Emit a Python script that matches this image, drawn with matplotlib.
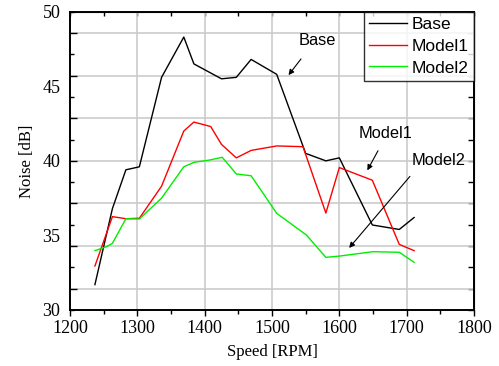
import numpy as np
import matplotlib
matplotlib.use("Agg")
import matplotlib.pyplot as plt
from matplotlib.ticker import FixedLocator

# ---- data ----
base_x = [1237, 1263, 1283, 1303, 1336, 1369, 1384, 1425, 1447, 1469, 1507, 1550, 1580, 1600, 1649, 1689, 1711]
base_y = [31.7, 36.8, 39.4, 39.6, 45.6, 48.3, 46.5, 45.5, 45.6, 46.8, 45.8, 40.5, 40.0, 40.2, 35.7, 35.4, 36.2]

m1_x = [1237, 1263, 1283, 1303, 1336, 1369, 1384, 1409, 1425, 1447, 1469, 1507, 1546, 1580, 1600, 1649, 1689, 1711]
m1_y = [32.95, 36.26, 36.12, 36.15, 38.3, 42.0, 42.6, 42.3, 41.1, 40.2, 40.7, 41.0, 40.95, 36.5, 39.55, 38.7, 34.4, 33.98]

m2_x = [1237, 1254, 1263, 1283, 1303, 1336, 1369, 1384, 1408, 1426, 1447, 1469, 1507, 1551, 1580, 1601, 1650, 1689, 1711]
m2_y = [33.98, 34.24, 34.47, 36.12, 36.1, 37.5, 39.6, 39.9, 40.06, 40.24, 39.12, 39.0, 36.48, 35.03, 33.53, 33.62, 33.91, 33.87, 33.2]

series_names = ["Base", "Model1", "Model2"]
x_tick_labels = [1200, 1300, 1400, 1500, 1600, 1700, 1800]
y_tick_labels = [30, 35, 40, 45, 50]

serif = ["Liberation Serif", "DejaVu Serif"]
sans = ["Liberation Sans", "DejaVu Sans"]

fig = plt.figure(figsize=(4.99, 3.66), dpi=100)
ax = fig.add_axes([70/499, 56/366, 404/499, 298.3/366])

ax.plot(base_x, base_y, color="black", lw=1.0, label=series_names[0])
ax.plot(m1_x, m1_y, color="#ff0000", lw=1.0, label=series_names[1])
ax.plot(m2_x, m2_y, color="#00ee00", lw=1.0, label=series_names[2])

ax.set_xlim(1200, 1800)
ax.set_ylim(30, 50)

# x ticks: bottom outward
ax.xaxis.set_major_locator(FixedLocator(x_tick_labels))
ax.xaxis.set_minor_locator(FixedLocator(np.arange(1250, 1800, 100)))
ax.tick_params(axis="x", which="major", direction="out", length=4, width=1, labelsize=13, pad=3)
ax.tick_params(axis="x", which="minor", direction="out", length=3, width=1)
for lab in ax.get_xticklabels():
    lab.set_family(serif)

# y gridline ticks (unlabelled), inward
step = 20/7
ax.yaxis.set_major_locator(FixedLocator([30 + (2*k+1)*step/2 for k in range(7)]))
ax.yaxis.set_minor_locator(FixedLocator([30 + k*step for k in range(8)]))
ax.tick_params(axis="y", which="major", direction="in", length=5, width=1, labelleft=False)
ax.tick_params(axis="y", which="minor", direction="in", length=3, width=1)

ax.grid(True, which="major", color="#cccccc", lw=1.2)
ax.set_axisbelow(True)

# labelled y axis
sec = ax.secondary_yaxis("left")
sec.set_yticks(y_tick_labels)
sec.tick_params(length=0, labelsize=13, pad=7)
sec.spines["left"].set_visible(False)
for lab in sec.get_yticklabels():
    lab.set_family(serif)

# top and right inward ticks
top = ax.secondary_xaxis("top")
top.set_xticks(np.arange(1200, 1801, 50))
top.tick_params(direction="in", length=3, width=1, labeltop=False)
right = ax.secondary_yaxis("right")
right.set_yticks([30 + k*step/2 for k in range(15)])
right.tick_params(direction="in", length=4, width=1, labelright=False)

for sp in ax.spines.values():
    sp.set_linewidth(1.4)

ax.set_xlabel("Speed [RPM]", family=serif, fontsize=12, labelpad=5)
sec.set_ylabel("Noise [dB]", family=serif, fontsize=12, labelpad=5)

leg = ax.legend(loc="upper right", prop={"family": sans, "size": 12.5}, frameon=True,
                fancybox=False, edgecolor="black", borderaxespad=0, handlelength=2.2,
                labelspacing=0.38, borderpad=0.3, handletextpad=0.25)
leg.get_frame().set_linewidth(1.0)

# annotations
ax.text(1567, 48.05, "Base", family=sans, fontsize=11.8, ha="center", va="center")
ax.annotate("", xy=(1522, 45.6), xytext=(1545.6, 46.98),
            arrowprops=dict(arrowstyle="-|>", color="black", lw=0.8, mutation_scale=8))
ax.text(1668.6, 41.85, "Model1", family=sans, fontsize=11.8, ha="center", va="center")
ax.annotate("", xy=(1639.6, 39.2), xytext=(1659.4, 40.84),
            arrowprops=dict(arrowstyle="-|>", color="black", lw=0.8, mutation_scale=8))
ax.text(1747, 40.04, "Model2", family=sans, fontsize=11.8, ha="center", va="center")
ax.annotate("", xy=(1611.9, 34.02), xytext=(1707.5, 39.1),
            arrowprops=dict(arrowstyle="-|>", color="black", lw=0.8, mutation_scale=8))

fig.savefig("out.png", dpi=100)
